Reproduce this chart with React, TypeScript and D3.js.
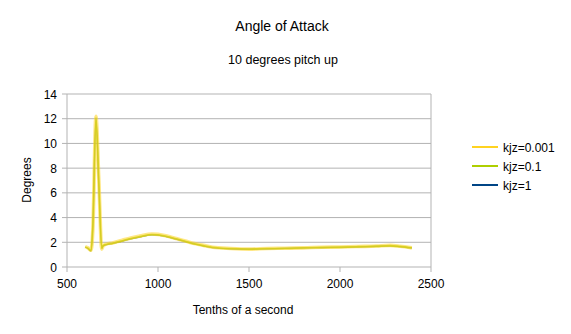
import React from "react";
import * as d3 from "d3";

const times = [600, 615, 632, 642, 659, 675, 691, 698, 715, 750, 800, 850, 900, 967, 1000, 1050, 1100, 1150, 1200, 1250, 1300, 1400, 1500, 1600, 1700, 1800, 1900, 2000, 2100, 2200, 2275, 2330, 2395];
const kjz0001 = [1.65, 1.55, 1.35, 3.0, 12.2, 7.0, 1.45, 1.7, 1.85, 1.95, 2.15, 2.35, 2.5, 2.67, 2.64, 2.5, 2.3, 2.1, 1.9, 1.75, 1.6, 1.5, 1.45, 1.5, 1.52, 1.55, 1.6, 1.62, 1.66, 1.7, 1.75, 1.68, 1.55];
const kjz01 = [1.62, 1.52, 1.33, 3.2, 12.1, 6.8, 1.5, 1.72, 1.82, 1.92, 2.1, 2.3, 2.45, 2.62, 2.6, 2.46, 2.27, 2.08, 1.88, 1.72, 1.58, 1.48, 1.45, 1.48, 1.5, 1.55, 1.58, 1.6, 1.64, 1.68, 1.72, 1.66, 1.55];
const kjz1 = [1.6, 1.5, 1.3, 3.4, 12.0, 6.6, 1.52, 1.7, 1.8, 1.9, 2.08, 2.28, 2.42, 2.6, 2.58, 2.44, 2.25, 2.06, 1.86, 1.7, 1.56, 1.47, 1.44, 1.47, 1.5, 1.54, 1.57, 1.6, 1.63, 1.67, 1.7, 1.65, 1.54];

const seriesNames = ["kjz=0.001", "kjz=0.1", "kjz=1"];
const seriesColors = ["#ffd320", "#aecf00", "#004586"];
const yTicks = [0, 2, 4, 6, 8, 10, 12, 14];
const xTicks = [500, 1000, 1500, 2000, 2500];

export default function App() {
  const W = 571, H = 334;
  const x = d3.scaleLinear().domain([500, 2500]).range([67, 431]);
  const y = d3.scaleLinear().domain([0, 14]).range([267, 94]);
  const font = "'Liberation Sans', Arial, sans-serif";
  const data = [kjz0001, kjz01, kjz1];
  const line = (vals: number[]) =>
    d3.line<number>()
      .x((_, i) => x(times[i]))
      .y((v) => y(v))
      .curve(d3.curveMonotoneX)(vals) || "";
  const drawOrder = [2, 1, 0];
  const widths = [3.6, 1.8, 1.2];
  const opac = [0.55, 0.8, 0.6];
  return (
    <svg width={W} height={H} style={{ position: "absolute", left: 0, top: 0, background: "#fff" }} fontFamily={font}>
      <rect x={0} y={0} width={W} height={H} fill="#fff" />
      <text x={282} y={31} textAnchor="middle" fontSize={14} fill="#000">Angle of Attack</text>
      <text x={283} y={64} textAnchor="middle" fontSize={12.5} fill="#000">10 degrees pitch up</text>
      {yTicks.map((t) => (
        <g key={"y" + t}>
          <line x1={62} x2={431} y1={y(t)} y2={y(t)} stroke="#b3b3b3" strokeWidth={1} />
          <text x={57} y={y(t) + 4.5} textAnchor="end" fontSize={12} fill="#000">{t}</text>
        </g>
      ))}
      <line x1={67} x2={67} y1={94} y2={267} stroke="#b3b3b3" />
      <line x1={431} x2={431} y1={94} y2={267} stroke="#b3b3b3" />
      {xTicks.map((t) => (
        <g key={"x" + t}>
          <line x1={x(t)} x2={x(t)} y1={267} y2={272} stroke="#b3b3b3" />
          <text x={x(t)} y={288} textAnchor="middle" fontSize={12} fill="#000">{t}</text>
        </g>
      ))}
      {drawOrder.map((si) => (
        <path key={si} d={line(data[si])} fill="none" stroke={seriesColors[si]} strokeWidth={widths[si]} strokeLinejoin="round" opacity={opac[si]} />
      ))}
      <text x={243} y={314} textAnchor="middle" fontSize={12} fill="#000">Tenths of a second</text>
      <text transform={`translate(31,180) rotate(-90)`} textAnchor="middle" fontSize={12} fill="#000">Degrees</text>
      {seriesNames.map((n, i) => (
        <g key={n}>
          <line x1={472} x2={498} y1={147 + i * 19} y2={147 + i * 19} stroke={seriesColors[i]} strokeWidth={2} />
          <text x={503} y={151.5 + i * 19} fontSize={12} fill="#000">{n}</text>
        </g>
      ))}
    </svg>
  );
}
